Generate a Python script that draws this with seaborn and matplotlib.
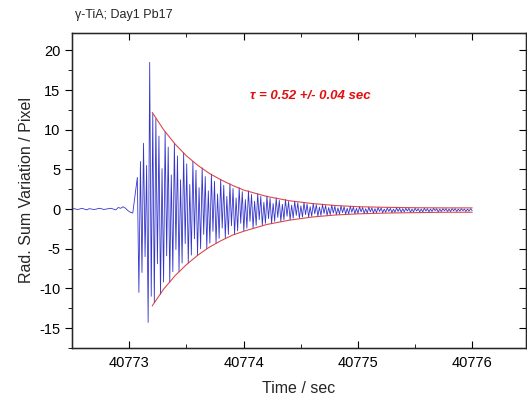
import numpy as np
import pandas as pd
import matplotlib
matplotlib.use("Agg")
import matplotlib.pyplot as plt
from matplotlib.ticker import MultipleLocator, FormatStrFormatter
import seaborn as sns

# pre-trigger baseline, 40772.5 .. 40773.03
baseline_t0, baseline_t1 = 40772.5, 40773.03
baseline_vals = [0.0, 0.05, -0.05, 0.0, 0.1, 0.0, -0.1, 0.05, 0.0, -0.05,
                 0.0, 0.1, 0.05, -0.05, 0.0, 0.05, 0.1, 0.0, -0.1, 0.2,
                 0.1, 0.3, 0.1, -0.2, -0.4, -0.5]

# oscillation: peaks every 0.027 s from 40773.07, troughs half a period later
osc_start = 40773.07
osc_period = 0.027
peak_vals = [4.0, 6.0, 8.3, 5.5, 18.5, 12.0, 11.4, 9.2, 5.1, 9.7,
             7.8, 4.3, 8.3, 6.7, 3.7, 7.1, 5.7, 3.1, 6.0, 4.9,
             2.7, 5.2, 4.1, 2.3, 4.4, 3.5, 1.9, 3.75, 3.0, 1.6,
             3.2, 2.6, 1.4, 2.7, 2.2, 1.2, 2.3, 1.85, 1.0, 1.95,
             1.6, 0.85, 1.65, 1.35, 0.7, 1.4, 1.1, 0.6, 1.2, 0.95,
             0.5, 1.0, 0.8, 0.4, 0.85, 0.65, 0.3, 0.7, 0.55, 0.25,
             0.6, 0.45, 0.2, 0.5, 0.35, 0.15, 0.4, 0.3, 0.1, 0.35,
             0.25, 0.1, 0.3, 0.2, 0.05, 0.25, 0.15, 0.05, 0.2, 0.15,
             0.0, 0.15, 0.1, 0.0, 0.15, 0.1, 0.05, 0.1, 0.1, 0.0,
             0.1, 0.05, 0.0, 0.1, 0.05, 0.0, 0.1, 0.05, 0.0, 0.05,
             0.05, 0.0, 0.05, 0.05, 0.0, 0.05, 0.0, 0.0, 0.05]
trough_vals = [-10.5, -8.0, -6.0, -14.3, -11.0, -11.8, -6.9, -10.75, -9.2, -5.9,
               -9.2, -7.9, -5.1, -7.9, -6.8, -4.35, -6.8, -5.8, -3.75, -5.85,
               -5.0, -3.2, -5.0, -4.3, -2.8, -4.3, -3.7, -2.4, -3.7, -3.2,
               -2.1, -3.2, -2.75, -1.8, -2.75, -2.4, -1.55, -2.4, -2.05, -1.35,
               -2.05, -1.8, -1.2, -1.8, -1.55, -1.05, -1.55, -1.35, -0.9, -1.35,
               -1.15, -0.8, -1.15, -1.0, -0.7, -1.0, -0.9, -0.6, -0.9, -0.8,
               -0.55, -0.8, -0.7, -0.5, -0.7, -0.65, -0.45, -0.65, -0.6, -0.4,
               -0.6, -0.55, -0.35, -0.55, -0.5, -0.35, -0.5, -0.45, -0.3, -0.45,
               -0.4, -0.3, -0.45, -0.4, -0.3, -0.4, -0.35, -0.25, -0.4, -0.35,
               -0.25, -0.35, -0.35, -0.25, -0.35, -0.3, -0.2, -0.35, -0.3, -0.2,
               -0.3, -0.3, -0.2, -0.3, -0.25, -0.2, -0.3, -0.25, -0.2]

# fitted envelope (tau = 0.52 s)
env_t = [40773.2, 40773.3, 40773.4, 40773.5, 40773.6, 40773.7, 40773.8, 40773.9,
         40774.0, 40774.2, 40774.4, 40774.6, 40774.8, 40775.0, 40775.25, 40775.5,
         40775.75, 40776.0]
env_upper = [12.2, 10.0, 8.2, 6.7, 5.5, 4.5, 3.7, 3.0, 2.4, 1.6, 1.05, 0.7,
             0.45, 0.3, 0.22, 0.17, 0.15, 0.15]
env_lower = [-12.2, -10.1, -8.4, -7.0, -5.8, -4.8, -4.0, -3.3, -2.8, -1.95,
             -1.4, -1.0, -0.75, -0.6, -0.5, -0.45, -0.4, -0.4]

title_text = "\u03b3-TiA; Day1 Pb17"
tau_text = "\u03c4 = 0.52 +/- 0.04 sec"

# build signal table
n = min(len(peak_vals), len(trough_vals))
t_base = np.linspace(baseline_t0, baseline_t1, len(baseline_vals))
t_peak = osc_start + np.arange(n) * osc_period
t_trough = t_peak + osc_period / 2
t_osc = np.column_stack([t_peak, t_trough]).ravel()
v_osc = np.column_stack([peak_vals[:n], trough_vals[:n]]).ravel()
signal = pd.DataFrame({"t": np.concatenate([t_base, t_osc]),
                       "v": np.concatenate([baseline_vals, v_osc])})

env = pd.DataFrame({"t": env_t, "up": env_upper, "lo": env_lower})

sns.set_style("ticks")
plt.rcParams["font.family"] = ["Liberation Sans", "DejaVu Sans"]
plt.rcParams["axes.unicode_minus"] = False

fig = plt.figure(figsize=(5.27, 3.98), dpi=100)
ax = fig.add_axes([0.137, 0.126, 0.861, 0.791])

sns.lineplot(data=signal, x="t", y="v", ax=ax, estimator=None, sort=False,
             color="#3535cc", linewidth=0.6)
sns.lineplot(data=env, x="t", y="up", ax=ax, estimator=None, color="#d42a2a",
             linewidth=0.8, alpha=0.85)
sns.lineplot(data=env, x="t", y="lo", ax=ax, estimator=None, color="#d42a2a",
             linewidth=0.8, alpha=0.85)

ax.set_xlim(40772.5, 40776.47)
ax.set_ylim(-17.5, 22.2)
ax.xaxis.set_major_locator(MultipleLocator(1))
ax.xaxis.set_minor_locator(MultipleLocator(0.5))
ax.xaxis.set_major_formatter(FormatStrFormatter("%d"))
ax.yaxis.set_major_locator(MultipleLocator(5))
ax.yaxis.set_minor_locator(MultipleLocator(2.5))

for s in ax.spines.values():
    s.set_visible(True)
    s.set_linewidth(1.0)
    s.set_color("black")

ax.tick_params(axis="x", which="both", direction="in", top=True, bottom=True,
               labelsize=10.5, pad=6, colors="black")
ax.tick_params(axis="x", which="major", length=5)
ax.tick_params(axis="x", which="minor", length=3)
ax.tick_params(axis="y", which="both", direction="out", left=True,
               labelsize=10.5, colors="black")
ax.tick_params(axis="y", which="major", length=5)
ax.tick_params(axis="y", which="minor", length=3)

# right-hand axis ticks pointing inward
ax2 = ax.twinx()
ax2.set_ylim(ax.get_ylim())
ax2.yaxis.set_major_locator(MultipleLocator(5))
ax2.yaxis.set_minor_locator(MultipleLocator(2.5))
ax2.tick_params(axis="y", which="both", direction="in", labelright=False,
                colors="black")
ax2.tick_params(axis="y", which="major", length=5)
ax2.tick_params(axis="y", which="minor", length=3)

ax.set_xlabel("Time / sec", fontsize=11.5, labelpad=8)
ax.set_ylabel("Rad. Sum Variation / Pixel", fontsize=11.5, labelpad=4)

ax.text(40774.06, 14.2, tau_text, color="#e01010", fontsize=9.5,
        fontweight="bold", fontstyle="italic", va="center", ha="left")
fig.text(0.142, 0.962, title_text, fontsize=9, ha="left", va="center")

fig.savefig("out.png", dpi=100)
